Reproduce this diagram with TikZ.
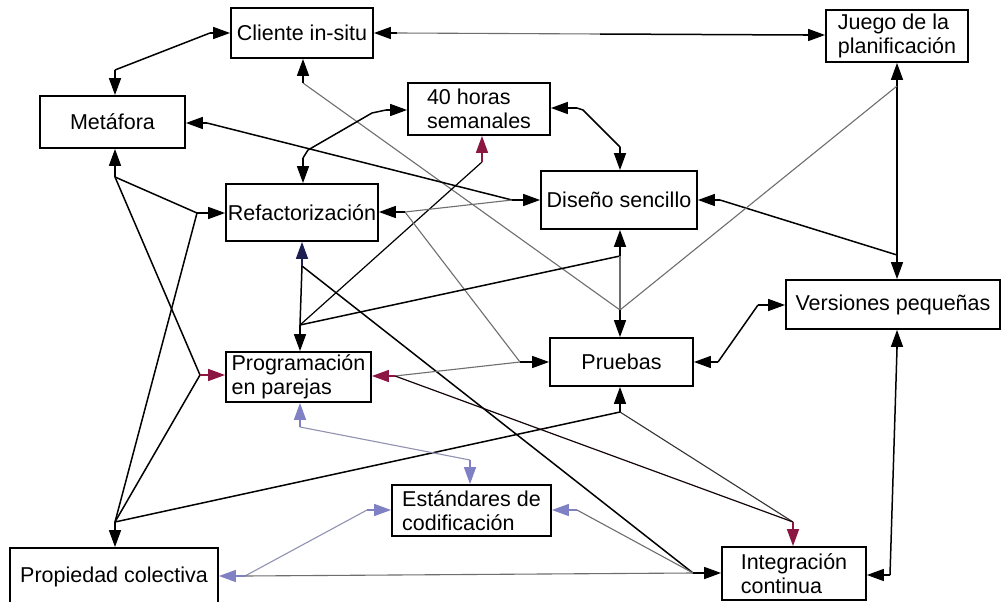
\documentclass[tikz,border=0pt]{standalone}
\usepackage{fontspec}
\setmainfont{Liberation Sans}
\usetikzlibrary{arrows.meta}
\definecolor{crim}{RGB}{140,22,66}
\definecolor{lav}{RGB}{128,128,196}
\definecolor{navy}{RGB}{28,32,80}
\definecolor{lgray}{RGB}{110,110,110}
\definecolor{lavline}{RGB}{145,145,178}
\begin{document}
\begin{tikzpicture}[x=1pt,y=-1pt,
  box/.style={draw, line width=1.8pt, inner sep=0pt, align=left,
    font=\fontsize{21.5}{23.5}\selectfont},
  link/.style={line width=1.5pt, black},
  faint/.style={line width=1.1pt, lgray},
  lavlink/.style={line width=1.1pt, lavline},
  arr/.style={line width=1.5pt, -{Triangle[length=17pt,width=12pt]}},
]
\useasboundingbox[fill=white] (0,0) rectangle (1002,602);

% practice boxes
\node[box, minimum width=142pt, minimum height=50pt] (C) at (302,33) {Cliente in-situ};
\node[box, minimum width=142pt, minimum height=52pt] (J) at (897,36) {Juego de la\\planificación};
\node[box, minimum width=142pt, minimum height=52pt] (H) at (479,109) {40 horas\\semanales};
\node[box, minimum width=145pt, minimum height=52pt] (M) at (112.5,122) {Metáfora};
\node[box, minimum width=152pt, minimum height=57pt] (R) at (302,212.5) {Refactorización};
\node[box, minimum width=156pt, minimum height=58pt] (D) at (619,200) {Diseño sencillo};
\node[box, minimum width=214pt, minimum height=49pt] (V) at (893,304.5) {Versiones pequeñas};
\node[box, minimum width=145pt, minimum height=50pt] (G) at (298.5,377) {Programación\\en parejas};
\node[box, minimum width=143pt, minimum height=48pt] (P) at (621.5,362) {Pruebas};
\node[box, minimum width=159pt, minimum height=51pt] (E) at (471.5,510.5) {Estándares de\\codificación};
\node[box, minimum width=208pt, minimum height=58pt] (K) at (114,577) {Propiedad colectiva};
\node[box, minimum width=144pt, minimum height=53pt] (I) at (794,573.5) {Integración\\continua};

% junction points next to each arrow head
\coordinate (cW) at (210,33);
\coordinate (cE) at (397,33);
\coordinate (cS) at (303,83);
\coordinate (cJ) at (600,34);
\coordinate (mN) at (115,70);
\coordinate (mE) at (207,123);
\coordinate (mS) at (115,177);
\coordinate (hW) at (386,110);
\coordinate (hE) at (577,108);
\coordinate (hS) at (482,162);
\coordinate (rN) at (303,158);
\coordinate (rW) at (197,213);
\coordinate (rE) at (405,212);
\coordinate (rS) at (302,266);
\coordinate (dN) at (620,147);
\coordinate (dW) at (512,200);
\coordinate (dE) at (720,200);
\coordinate (dS) at (620,256);
\coordinate (jW) at (803,35);
\coordinate (jS) at (897,86);
\coordinate (vN) at (897,255);
\coordinate (vW) at (758,305);
\coordinate (vS) at (897,349);
\coordinate (gN) at (300,325);
\coordinate (gW) at (200,375);
\coordinate (gE) at (395,376);
\coordinate (gS) at (300,427);
\coordinate (pN) at (620,310);
\coordinate (pW) at (520,362);
\coordinate (pE) at (718,362);
\coordinate (pS) at (620,412);
\coordinate (eN) at (470,460);
\coordinate (eW) at (367,510);
\coordinate (eE) at (577,510);
\coordinate (kN) at (115,522);
\coordinate (kE) at (245,576);
\coordinate (iW) at (693,573);
\coordinate (iN) at (793,522);
\coordinate (iE) at (890,575);

% connecting lines between junctions
\draw[link] (cW) -- (mN);
\draw[faint] (cE) -- (cJ);
\draw[link] (cJ) -- (jW);
\draw[faint] (cS) -- (pN);
\draw[link] (mE) -- (dW);
\draw[link] (mS) -- (rW);
\draw[link] (mS) -- (gW);
\draw[link] (rW) -- (kN);
\draw[link] (gW) -- (kN);
\draw[link] (pS) -- (kN);
\draw[link] (hW) -- (372,113) -- (308,150) -- (rN);
\draw[link] (hE) -- (583,110) -- (dN);
\draw[link, line width=1.2pt] (hS) -- (gN);
\draw[faint] (rE) -- (dW);
\draw[faint] (rE) -- (pW);
\draw[link] (rS) -- (gN);
\draw[link] (rS) -- (iW);
\draw[link] (dE) -- (vN);
\draw[link] (dS) -- (gN);
\draw[faint] (dS) -- (pN);
\draw[link] (jS) -- (vN);
\draw[faint] (jS) -- (pN);
\draw[link] (pE) -- (vW);
\draw[faint, black!80] (pS) -- (iN);
\draw[faint] (gE) -- (pW);
\draw[link, line width=1.2pt, black!85!crim] (gE) -- (iN);
\draw[lavlink] (gS) -- (eN);
\draw[lavlink] (eW) -- (kE);
\draw[faint] (eE) -- (iW);
\draw[faint] (kE) -- (iW);
\draw[link] (iE) -- (vS);

% arrow heads into the boxes
\draw[arr] (cW) -- (cW -| C.west);
\draw[arr] (cE) -- (cE -| C.east);
\draw[arr] (cS) -- (cS |- C.south);
\draw[arr] (mN) -- (mN |- M.north);
\draw[arr] (mE) -- (mE -| M.east);
\draw[arr] (mS) -- (mS |- M.south);
\draw[arr] (hW) -- (hW -| H.west);
\draw[arr] (hE) -- (hE -| H.east);
\draw[arr, crim] (hS) -- (hS |- H.south);
\draw[arr] (rN) -- (rN |- R.north);
\draw[arr] (rW) -- (rW -| R.west);
\draw[arr] (rE) -- (rE -| R.east);
\draw[arr, navy] (rS) -- (rS |- R.south);
\draw[arr] (dN) -- (dN |- D.north);
\draw[arr] (dW) -- (dW -| D.west);
\draw[arr] (dE) -- (dE -| D.east);
\draw[arr] (dS) -- (dS |- D.south);
\draw[arr] (jW) -- (jW -| J.west);
\draw[arr] (jS) -- (jS |- J.south);
\draw[arr] (vN) -- (vN |- V.north);
\draw[arr] (vW) -- (vW -| V.west);
\draw[arr] (vS) -- (vS |- V.south);
\draw[arr] (gN) -- (gN |- G.north);
\draw[arr, crim] (gW) -- (gW -| G.west);
\draw[arr, crim] (gE) -- (gE -| G.east);
\draw[arr, lav] (gS) -- (gS |- G.south);
\draw[arr] (pN) -- (pN |- P.north);
\draw[arr] (pW) -- (pW -| P.west);
\draw[arr] (pE) -- (pE -| P.east);
\draw[arr] (pS) -- (pS |- P.south);
\draw[arr, lav] (eN) -- (eN |- E.north);
\draw[arr, lav] (eW) -- (eW -| E.west);
\draw[arr, lav] (eE) -- (eE -| E.east);
\draw[arr] (kN) -- (kN |- K.north);
\draw[arr, lav] (kE) -- (kE -| K.east);
\draw[arr] (iW) -- (iW -| I.west);
\draw[arr, crim] (iN) -- (iN |- I.north);
\draw[arr] (iE) -- (iE -| I.east);
\end{tikzpicture}
\end{document}
